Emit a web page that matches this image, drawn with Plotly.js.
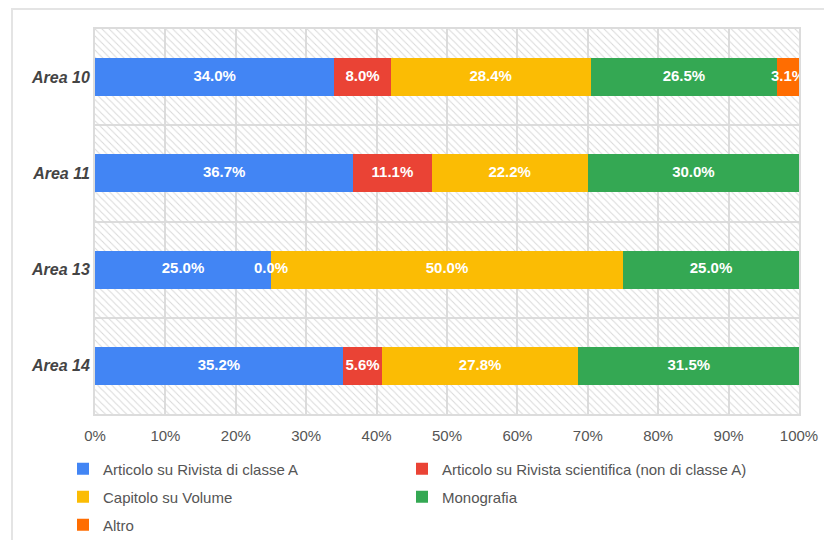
<!DOCTYPE html>
<html>
<head>
<meta charset="utf-8">
<script src="https://cdn.plot.ly/plotly-3.0.1.min.js"></script>
<style>
  html, body { margin: 0; padding: 0; background: #fff; overflow: hidden; }
  #wrap { position: relative; width: 824px; height: 540px; overflow: hidden; }
  #chart { width: 824px; height: 540px; }
  #frame { position: absolute; left: 11px; top: 8px; width: 900px; height: 700px;
           border: 2px solid #e4e4e4; pointer-events: none; }
</style>
</head>
<body>
<div id="wrap">
  <div id="chart"></div>
  <div id="frame"></div>
</div>
<script>
// ---- Data (percent shares) ----
const areas = ["Area 10", "Area 11", "Area 13", "Area 14"];
const seriesNames = [
  "Articolo su Rivista di classe A",
  "Articolo su Rivista scientifica (non di classe A)",
  "Capitolo su Volume",
  "Monografia",
  "Altro"
];
const rivistaA     = [34.0, 36.7, 25.0, 35.2];
const rivistaSci   = [8.0, 11.1, 0.0, 5.6];
const capitolo     = [28.4, 22.2, 50.0, 27.8];
const monografia   = [26.5, 30.0, 25.0, 31.5];
const altro        = [3.1, null, null, null];
const totalShare   = [100, 100, 100, 100];
const xTickVals    = [0, 10, 20, 30, 40, 50, 60, 70, 80, 90, 100];
const xTickLabels  = ["0%", "10%", "20%", "30%", "40%", "50%", "60%", "70%", "80%", "90%", "100%"];

// ---- Styles ----
const colors = ["#4285F4", "#EA4335", "#FBBC04", "#34A853", "#FF6D01"];
const legendIds = ["legend", "legend2", "legend3", "legend4", "legend5"];
const seriesValues = [rivistaA, rivistaSci, capitolo, monografia, altro];

const fmt = v => v.toFixed(1) + "%";

const traces = [];
// hatched plot background
traces.push({
  type: "bar", orientation: "h",
  x: totalShare, y: areas, base: 0, width: 1,
  xaxis: "x", yaxis: "y",
  marker: {
    color: "rgba(0,0,0,0)",
    line: { width: 0 },
    pattern: { shape: "\\", fgcolor: "#d9d9d9", bgcolor: "rgba(0,0,0,0)", size: 5, solidity: 0.2, fillmode: "replace" }
  },
  hoverinfo: "skip", showlegend: false
});

seriesValues.forEach((vals, i) => {
  traces.push({
    type: "bar", orientation: "h",
    name: seriesNames[i],
    x: vals, y: areas,
    xaxis: "x", yaxis: "y2",
    width: 0.395,
    marker: { color: colors[i], line: { width: 0 } },
    textposition: "none",
    legend: legendIds[i]
  });
});

// segment labels at the middle of each stacked segment (computed from the data)
const labX = [], labY = [], labT = [];
areas.forEach((a, j) => {
  let cum = 0;
  seriesValues.forEach(vals => {
    const v = vals[j];
    if (v === null || v === undefined) return;
    labX.push(cum + v / 2);
    labY.push(a);
    labT.push(fmt(v));
    cum += v;
  });
});
traces.push({
  type: "scatter", mode: "text",
  x: labX, y: labY, text: labT,
  xaxis: "x", yaxis: "y2",
  textposition: "middle center",
  textfont: { family: "Liberation Sans, Arial, sans-serif", size: 15, color: "#ffffff", weight: "bold" },
  cliponaxis: true, showlegend: false, hoverinfo: "skip"
});

// plot area in pixels: x 95..799, y 29..414
const px2x = p => (p - 95) / 704;
const px2y = p => (414 - p) / 385;
const legendBase = {
  xanchor: "left", yanchor: "middle",
  bgcolor: "rgba(0,0,0,0)",
  font: { family: "Liberation Sans, Arial, sans-serif", size: 15, color: "#555555" },
  itemclick: false, itemdoubleclick: false
};
const col1 = px2x(63), col2 = px2x(402);
const row1 = px2y(469), row2 = px2y(497), row3 = px2y(525);

const layout = {
  width: 824, height: 540,
  margin: { l: 95, r: 25, t: 29, b: 126, pad: 0, autoexpand: false },
  paper_bgcolor: "#ffffff",
  plot_bgcolor: "#ffffff",
  barmode: "stack",
  font: { family: "Liberation Sans, Arial, sans-serif", color: "#555555" },
  xaxis: {
    range: [0, 100], tickmode: "array", tickvals: xTickVals, ticktext: xTickLabels,
    showgrid: true, gridcolor: "#dcdcdc", gridwidth: 2,
    showline: true, mirror: true, linecolor: "#dcdcdc", linewidth: 2,
    zeroline: false, ticks: "outside", ticklen: 7, tickcolor: "rgba(0,0,0,0)",
    tickfont: { size: 15, color: "#555555" }, fixedrange: true, automargin: false
  },
  yaxis: {
    type: "category", categoryorder: "array", categoryarray: areas,
    range: [3.5, -0.5],
    tickson: "boundaries", showgrid: true, gridcolor: "#dcdcdc", gridwidth: 2,
    showline: true, mirror: true, linecolor: "#dcdcdc", linewidth: 2,
    ticks: "outside", ticklen: 22, tickcolor: "rgba(0,0,0,0)",
    tickfont: { size: 16, color: "#444444", weight: "bold", style: "italic" },
    fixedrange: true, automargin: false
  },
  yaxis2: {
    type: "category", categoryorder: "array", categoryarray: areas,
    range: [3.5, -0.5], overlaying: "y", visible: false, fixedrange: true
  },
  legend:  Object.assign({}, legendBase, { x: col1, y: row1 }),
  legend2: Object.assign({}, legendBase, { x: col2, y: row1 }),
  legend3: Object.assign({}, legendBase, { x: col1, y: row2 }),
  legend4: Object.assign({}, legendBase, { x: col2, y: row2 }),
  legend5: Object.assign({}, legendBase, { x: col1, y: row3 }),
  showlegend: true
};

Plotly.newPlot("chart", traces, layout, { displayModeBar: false, staticPlot: true });
</script>
</body>
</html>
